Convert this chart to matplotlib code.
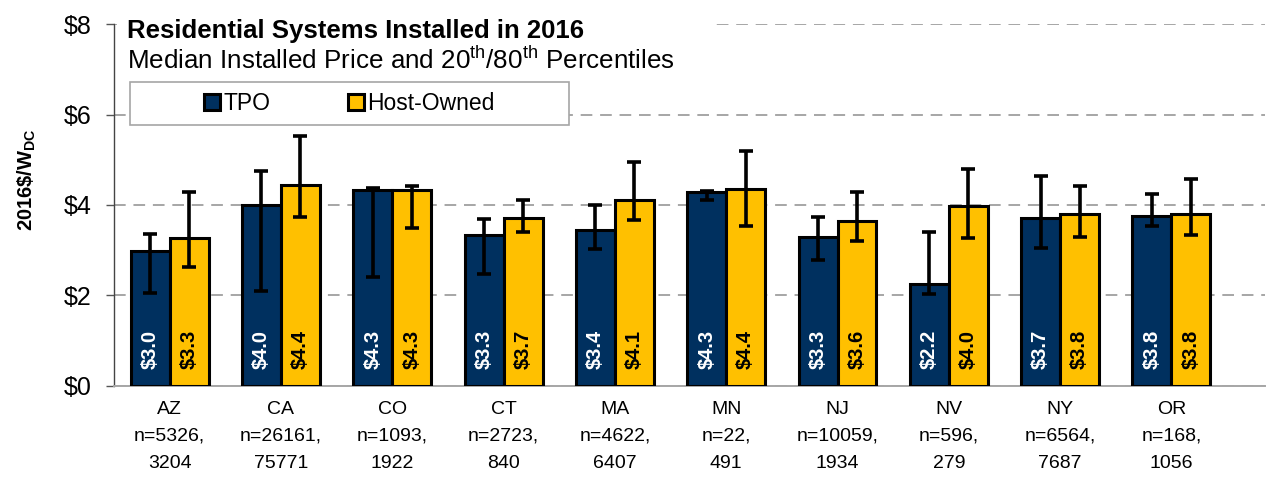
import matplotlib
matplotlib.use("Agg")
import matplotlib.pyplot as plt
from matplotlib.patches import Rectangle, Patch
import numpy as np

plt.rcParams['font.family'] = ['Liberation Sans', 'DejaVu Sans']
plt.rcParams['mathtext.fontset'] = 'custom'
plt.rcParams['mathtext.rm'] = 'Liberation Sans'
plt.rcParams['mathtext.bf'] = 'Liberation Sans:bold'

states = ['AZ', 'CA', 'CO', 'CT', 'MA', 'MN', 'NJ', 'NV', 'NY', 'OR']
n_tpo = [5326, 26161, 1093, 2723, 4622, 22, 10059, 596, 6564, 168]
n_host = [3204, 75771, 1922, 840, 6407, 491, 1934, 279, 7687, 1056]
tpo_median = [2.99, 3.99, 4.33, 3.33, 3.44, 4.29, 3.29, 2.24, 3.72, 3.76]
host_median = [3.27, 4.44, 4.33, 3.72, 4.11, 4.36, 3.64, 3.97, 3.79, 3.79]
tpo_p20 = [2.05, 2.09, 2.41, 2.48, 3.02, 4.10, 2.79, 2.02, 3.04, 3.54]
tpo_p80 = [3.35, 4.75, 4.38, 3.69, 4.00, 4.30, 3.73, 3.41, 4.64, 4.24]
host_p20 = [2.63, 3.74, 3.48, 3.41, 3.66, 3.53, 3.20, 3.28, 3.29, 3.33]
host_p80 = [4.28, 5.52, 4.41, 4.12, 4.96, 5.20, 4.28, 4.80, 4.41, 4.58]
yticks = [0, 2, 4, 6, 8]

navy = '#00305F'
gold = '#FFC000'

fig = plt.figure(figsize=(12.68, 4.79), dpi=100)
ax = fig.add_axes([0.0899, 0.1948, 0.9077, 0.7545])

x = np.arange(len(states))
w = 0.35
tm = np.array(tpo_median); hm = np.array(host_median)
terr = [tm - np.array(tpo_p20), np.array(tpo_p80) - tm]
herr = [hm - np.array(host_p20), np.array(host_p80) - hm]

ax.bar(x - w/2, tm, w, color=navy, edgecolor='black', linewidth=2.2, zorder=3)
ax.bar(x + w/2, hm, w, color=gold, edgecolor='black', linewidth=2.2, zorder=3)
ax.errorbar(x - w/2, tm, yerr=terr, fmt='none', ecolor='black', elinewidth=2.6,
            capsize=4.7, capthick=2.6, zorder=4)
ax.errorbar(x + w/2, hm, yerr=herr, fmt='none', ecolor='black', elinewidth=2.6,
            capsize=4.7, capthick=2.6, zorder=4)

for xi, v in zip(x, tm):
    ax.text(xi - w/2, 0.38, f'${v:.1f}', rotation=90, ha='center', va='bottom',
            color='white', fontsize=14.5, fontweight='bold', zorder=5)
for xi, v in zip(x, hm):
    ax.text(xi + w/2, 0.38, f'${v:.1f}', rotation=90, ha='center', va='bottom',
            color='black', fontsize=14.5, fontweight='bold', zorder=5)

ax.set_ylim(0, 8)
ax.set_xlim(-0.5, 9.84)
ax.set_yticks(yticks)
ax.set_yticklabels([f'${t}' for t in yticks], fontsize=18)
ax.set_xticks(x)
ax.set_xticklabels([f'{s}\nn={a},\n{b}' for s, a, b in zip(states, n_tpo, n_host)],
                   fontsize=14, linespacing=1.76)
ax.tick_params(axis='x', length=0, pad=11)
ax.tick_params(axis='y', length=6, width=1, color='#555555', direction='out', pad=10)

ax.set_axisbelow(True)
ax.yaxis.grid(True, color='#A6A6A6', linestyle=(0, (6, 4)), linewidth=1.4)
for s in ['top', 'right']:
    ax.spines[s].set_visible(False)
ax.spines['left'].set_color('#444444')
ax.spines['left'].set_linewidth(1)
ax.spines['bottom'].set_color('#A6A6A6')
ax.spines['bottom'].set_linewidth(1.4)

ax.set_ylabel(r'$\mathbf{2016\$/W_{DC}}$', fontsize=14.5)
ax.yaxis.set_label_coords(-0.066, 0.57)

# white area behind title
ax.add_patch(Rectangle((0.003, 0.86), 0.52, 0.16, transform=ax.transAxes,
                       facecolor='white', edgecolor='none', zorder=1, clip_on=False))
ax.text(0.011, 0.962, 'Residential Systems Installed in 2016', transform=ax.transAxes,
        fontsize=18.5, fontweight='bold', ha='left', va='baseline', zorder=6)
ax.text(0.011, 0.876, r'Median Installed Price and 20$^{\mathrm{th}}$/80$^{\mathrm{th}}$ Percentiles',
        transform=ax.transAxes, fontsize=18.7, ha='left', va='baseline', zorder=6)

# legend frame
ax.add_patch(Rectangle((0.0139, 0.7214), 0.3814, 0.119, transform=ax.transAxes,
                       facecolor='white', edgecolor='#A6A6A6', linewidth=1.2,
                       zorder=6, clip_on=False))
handles = [Patch(facecolor=navy, edgecolor='black', linewidth=2.2),
           Patch(facecolor=gold, edgecolor='black', linewidth=2.2)]
leg = ax.legend(handles, ['TPO', 'Host-Owned'], ncol=2, loc='center',
                bbox_to_anchor=(0.2046, 0.781), fontsize=16.5, frameon=False,
                handlelength=0.7, handleheight=0.7, handletextpad=0.15,
                columnspacing=3.35, borderaxespad=0, borderpad=0)
leg.set_zorder(7)

fig.savefig('out.png', dpi=100)
